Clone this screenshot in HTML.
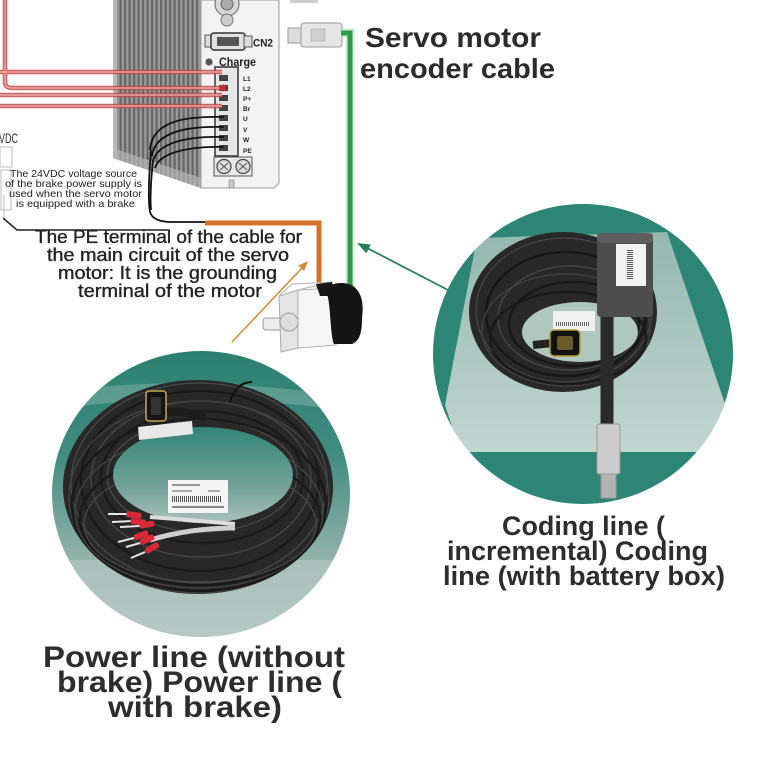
<!DOCTYPE html>
<html><head><meta charset="utf-8"><style>
html,body{margin:0;padding:0;background:#fff;}
svg{display:block;}
text{font-family:"Liberation Sans",Arial,sans-serif;}
</style></head><body>
<svg width="760" height="760" viewBox="0 0 760 760" xmlns="http://www.w3.org/2000/svg">
<defs>
 <clipPath id="body"><polygon points="113,0 201,0 201,188 113,158"/></clipPath>
 <clipPath id="lc"><ellipse cx="201" cy="494" rx="149" ry="143"/></clipPath>
 <clipPath id="rc"><circle cx="583" cy="354" r="150"/></clipPath>
 <clipPath id="lring"><path clip-rule="evenodd" d="M63,487 a135,107 0 1,0 270,0 a135,107 0 1,0 -270,0 Z M113,475 a90,48 0 1,0 180,0 a90,48 0 1,0 -180,0 Z"/></clipPath>
 <clipPath id="rring"><path clip-rule="evenodd" d="M469,312 a94,80 0 1,0 188,0 a94,80 0 1,0 -188,0 Z M522,332 a58,30 0 1,0 116,0 a58,30 0 1,0 -116,0 Z"/></clipPath>
 <linearGradient id="lg" x1="0" y1="0" x2="0" y2="1">
   <stop offset="0" stop-color="#2c8070"/>
   <stop offset="0.35" stop-color="#3f8b7f"/>
   <stop offset="0.7" stop-color="#8fb0a8"/>
   <stop offset="1" stop-color="#b9cac5"/>
 </linearGradient>
 <linearGradient id="lhole" x1="0" y1="0" x2="0" y2="1">
   <stop offset="0" stop-color="#348577"/>
   <stop offset="0.6" stop-color="#6fa096"/>
   <stop offset="1" stop-color="#a9c0ba"/>
 </linearGradient>
 <linearGradient id="bag" x1="0" y1="0" x2="0" y2="1">
   <stop offset="0" stop-color="#9fbdb5"/>
   <stop offset="1" stop-color="#d3dfdb"/>
 </linearGradient>
</defs>
<rect width="760" height="760" fill="#fff"/>

<!-- ===== Driver heat sink ===== -->
<polygon points="113,0 201,0 201,188 113,158" fill="#9a9a9a"/>
<g clip-path="url(#body)" fill="#666">
 <rect x="115" y="0" width="2.2" height="190"/><rect x="119.5" y="0" width="2.2" height="190"/>
 <rect x="124" y="0" width="2.2" height="190"/><rect x="128.5" y="0" width="2.2" height="190"/>
 <rect x="133" y="0" width="2.2" height="190"/><rect x="137.5" y="0" width="2.2" height="190"/>
 <rect x="142" y="0" width="2.2" height="190"/><rect x="146.5" y="0" width="2.2" height="190"/>
 <rect x="151" y="0" width="2.2" height="190"/><rect x="155.5" y="0" width="2.2" height="190"/>
 <rect x="160" y="0" width="2.2" height="190"/><rect x="164.5" y="0" width="2.2" height="190"/>
 <rect x="169" y="0" width="2.2" height="190"/><rect x="173.5" y="0" width="2.2" height="190"/>
 <rect x="178" y="0" width="2.2" height="190"/><rect x="182.5" y="0" width="2.2" height="190"/>
 <rect x="187" y="0" width="2.2" height="190"/><rect x="191.5" y="0" width="2.2" height="190"/>
 <rect x="196" y="0" width="2.2" height="190"/>
 <rect x="113" y="0" width="4" height="190" fill="#b8b8b8"/>
 <polygon points="113,148 201,178 201,190 113,160" fill="#b5b5b5" opacity="0.7"/>
</g>

<!-- front panel -->
<polygon points="201,0 279,0 279,183 274,188 201,188" fill="#f3f3f3" stroke="#9a9a9a" stroke-width="1"/>
<circle cx="227" cy="4" r="12" fill="#d8d8d8" stroke="#777" stroke-width="1.2"/>
<circle cx="227" cy="4" r="6" fill="#aaa" stroke="#666"/>
<circle cx="227" cy="20" r="6" fill="#ccc" stroke="#777"/>
<rect x="205" y="35" width="8" height="12" fill="#ddd" stroke="#555"/>
<rect x="211" y="33" width="34" height="17" rx="3" fill="#e2e2e2" stroke="#333" stroke-width="1.5"/>
<rect x="217" y="37" width="22" height="9" fill="#555"/>
<rect x="244" y="36" width="8" height="11" fill="#ddd" stroke="#555"/>
<text x="253" y="46.5" font-size="11" font-weight="bold" fill="#222" textLength="20" lengthAdjust="spacingAndGlyphs">CN2</text>
<circle cx="209" cy="62" r="3.6" fill="#555"/>
<text x="219" y="66" font-size="11.5" font-weight="bold" fill="#222" textLength="37" lengthAdjust="spacingAndGlyphs">Charge</text>
<rect x="215" y="67" width="23" height="89" fill="#e6e6e6" stroke="#333" stroke-width="1.5"/>
<g fill="#444">
 <rect x="219" y="75" width="9" height="6"/><rect x="219" y="85" width="9" height="6"/>
 <rect x="219" y="95" width="9" height="6"/><rect x="219" y="105" width="9" height="6"/>
 <rect x="219" y="115" width="9" height="6"/><rect x="219" y="125" width="9" height="6"/>
 <rect x="219" y="135" width="9" height="6"/><rect x="219" y="145" width="9" height="6"/>
</g>
<g font-size="6.5" font-weight="bold" fill="#222">
 <text x="243" y="81">L1</text><text x="243" y="91">L2</text><text x="243" y="101">P+</text>
 <text x="243" y="111">Br</text><text x="243" y="121">U</text><text x="243" y="132">V</text>
 <text x="243" y="142">W</text><text x="243" y="153">PE</text>
</g>
<rect x="214" y="157" width="38" height="19" fill="#e8e8e8" stroke="#555"/>
<circle cx="224" cy="166.5" r="7" fill="#ddd" stroke="#444" stroke-width="1.2"/>
<circle cx="243" cy="166.5" r="7" fill="#ddd" stroke="#444" stroke-width="1.2"/>
<path d="M220,163 L228,170 M220,170 L228,163 M239,163 L247,170 M239,170 L247,163" stroke="#555" stroke-width="1"/>
<rect x="229" y="180" width="5" height="8" fill="#ccc" stroke="#777" stroke-width="0.6"/>

<!-- red lines -->
<g fill="none" stroke-linecap="butt">
 <g stroke="#c24a4a" stroke-width="4.5" opacity="0.85">
  <path d="M0,72 H222"/><path d="M5,0 V82 Q5,88 12,88 H222"/><path d="M0,95 H222"/><path d="M0,106 H222"/>
 </g>
 <g stroke="#f0b4b4" stroke-width="1.2">
  <path d="M0,72 H222"/><path d="M5,0 V82 Q5,88 12,88 H222"/><path d="M0,95 H222"/><path d="M0,106 H222"/>
 </g>
</g>
<circle cx="223" cy="88" r="3.5" fill="#b33"/>

<!-- black wires -->
<g fill="none" stroke="#111" stroke-width="1.8">
 <path d="M224,117 C188,116 152,120 150,150"/>
 <path d="M224,127 C190,126 155,131 152,156"/>
 <path d="M224,137 C192,136 157,141 153,162"/>
 <path d="M224,147 C194,146 160,151 155,168"/>
 <path d="M151,150 C149,175 148,200 150,212 Q153,222 172,222 L208,222"/>
 <path d="M153,160 C151,180 150,200 151,210"/>
 <path d="M3,218 L17,230 H168" stroke-width="1.5" stroke="#222"/>
</g>

<!-- power supply faint drawing -->
<g fill="none" stroke="#bbb" stroke-width="1">
 <rect x="0" y="147" width="12" height="20"/>
 <rect x="1" y="170" width="10" height="40"/>
 <path d="M4,195 V218"/>
</g>
<text x="-1" y="143" font-size="14" fill="#333" textLength="19" lengthAdjust="spacingAndGlyphs">VDC</text>

<g font-size="10.5" fill="#222">
 <text x="10" y="177" textLength="127" lengthAdjust="spacingAndGlyphs">The 24VDC voltage source</text>
 <text x="5" y="187" textLength="137" lengthAdjust="spacingAndGlyphs">of the brake power supply is</text>
 <text x="9" y="197" textLength="133" lengthAdjust="spacingAndGlyphs">used when the servo motor</text>
 <text x="16" y="207" textLength="119" lengthAdjust="spacingAndGlyphs">is equipped with a brake</text>
</g>

<!-- orange connector -->
<path d="M205,223 H319 V293" fill="none" stroke="#d6702a" stroke-width="5"/>

<!-- PE text -->
<g font-size="18" fill="#222" stroke="#222" stroke-width="0.35">
 <text x="35" y="243" textLength="267" lengthAdjust="spacingAndGlyphs">The PE terminal of the cable for</text>
 <text x="47" y="261" textLength="242" lengthAdjust="spacingAndGlyphs">the main circuit of the servo</text>
 <text x="58" y="279" textLength="219" lengthAdjust="spacingAndGlyphs">motor: It is the grounding</text>
 <text x="78" y="297" textLength="184" lengthAdjust="spacingAndGlyphs">terminal of the motor</text>
</g>

<!-- encoder plug & green cable -->
<rect x="290" y="0" width="28" height="3" fill="#ccc"/>
<rect x="288" y="28" width="15" height="15" fill="#ddd" stroke="#999"/>
<rect x="301" y="23" width="41" height="24" rx="3" fill="#e6e6e6" stroke="#9a9a9a"/>
<rect x="311" y="29" width="14" height="12" fill="#cfcfcf" stroke="#aaa" stroke-width="0.6"/>
<path d="M341,33 H350 V288" fill="none" stroke="#a6e0ae" stroke-width="9" opacity="0.55"/>
<path d="M341,33 H350 V288" fill="none" stroke="#2f9a47" stroke-width="5"/>

<text x="365" y="47" font-size="28" font-weight="bold" fill="#2b2b2b" textLength="176" lengthAdjust="spacingAndGlyphs">Servo motor</text>
<text x="360" y="78" font-size="28" font-weight="bold" fill="#2b2b2b" textLength="195" lengthAdjust="spacingAndGlyphs">encoder cable</text>

<!-- motor -->
<rect x="263" y="318" width="24" height="12" rx="3" fill="#eee" stroke="#999"/>
<polygon points="279,296 298,290 298,348 281,352" fill="#e4e4e4" stroke="#aaa"/>
<circle cx="289" cy="322" r="9" fill="#ddd" stroke="#999"/>
<polygon points="298,290 336,288 336,345 298,348" fill="#f6f6f6" stroke="#b0b0b0"/>
<polygon points="279,296 292,284 332,282 298,290" fill="#fbfbfb" stroke="#b5b5b5"/>
<path d="M316,284 L332,282 L336,296 L320,296 Z" fill="#161616"/>
<path d="M326,290 C330,282 345,281 353,286 C362,292 364,305 362,318 C362,332 360,341 352,344 L334,344 C330,336 331,302 326,290 Z" fill="#141414"/>

<!-- thin arrows -->
<line x1="232" y1="342" x2="302" y2="268" stroke="#d28a3a" stroke-width="1.5"/>
<polygon points="308,261 304.1,271 298.3,265.6" fill="#d28a3a"/>
<line x1="448" y1="290" x2="367" y2="248" stroke="#2a7d57" stroke-width="1.8"/>
<polygon points="357,243 370.9,244.6 366.3,253.4" fill="#2a7d57"/>

<!-- ===== Left circle (power line) ===== -->
<g clip-path="url(#lc)">
 <rect x="50" y="350" width="302" height="290" fill="url(#lg)"/>
 <path d="M50,392 Q200,372 352,398 L352,412 Q200,388 50,410 Z" fill="#d5e3de" opacity="0.25"/>
 <rect x="50" y="560" width="302" height="80" fill="#b7c8c3" opacity="0.6"/>
</g>
<ellipse cx="203" cy="475" rx="90" ry="48" fill="url(#lhole)"/>
<path fill-rule="evenodd" fill="#282828" d="M63,487 a135,107 0 1,0 270,0 a135,107 0 1,0 -270,0 Z M113,475 a90,48 0 1,0 180,0 a90,48 0 1,0 -180,0 Z"/>
<g clip-path="url(#lring)" fill="none">
 <ellipse cx="199" cy="483" rx="128" ry="100" stroke="#484848" stroke-width="1.3"/>
 <ellipse cx="200" cy="481" rx="119" ry="90" stroke="#1a1a1a" stroke-width="2.5"/>
 <ellipse cx="201" cy="479" rx="110" ry="78" stroke="#4a4a4a" stroke-width="1.2"/>
 <ellipse cx="202" cy="477" rx="101" ry="66" stroke="#1b1b1b" stroke-width="2.5"/>
 <ellipse cx="202" cy="476" rx="95" ry="56" stroke="#4d4d4d" stroke-width="1.2"/>
 <ellipse cx="199" cy="497" rx="130" ry="96" stroke="#444" stroke-width="1.2"/>
 <ellipse cx="199" cy="505" rx="127" ry="86" stroke="#1a1a1a" stroke-width="2.5"/>
 <ellipse cx="199" cy="512" rx="124" ry="76" stroke="#474747" stroke-width="1.2"/>
 <ellipse cx="200" cy="519" rx="120" ry="66" stroke="#1a1a1a" stroke-width="2.5"/>
 <ellipse cx="200" cy="524" rx="116" ry="58" stroke="#4a4a4a" stroke-width="1.2"/>
</g>
<!-- connector & labels -->
<path d="M165,412 Q185,410 205,418" fill="none" stroke="#1d1d1d" stroke-width="8"/>
<rect x="146" y="391" width="20" height="30" rx="3" fill="#151515" stroke="#c2aa4a" stroke-width="1.5"/>
<rect x="151" y="397" width="10" height="18" fill="#333"/>
<polygon points="138,427 192,421 193,434 139,440" fill="#e9e9e9"/>
<path d="M230,402 q6,-20 22,-20" fill="none" stroke="#111" stroke-width="2"/>
<rect x="168" y="480" width="60" height="33" fill="#f4f4f4"/>
<rect x="172" y="484" width="28" height="2" fill="#999"/>
<rect x="172" y="490" width="20" height="2" fill="#aaa"/><rect x="208" y="490" width="12" height="2" fill="#aaa"/>
<line x1="172" y1="499" x2="222" y2="499" stroke="#555" stroke-width="6" stroke-dasharray="1 1"/>
<rect x="172" y="506" width="52" height="2" fill="#888"/>
<!-- ferrules -->
<g>
 <path d="M150,517 Q190,520 235,524" stroke="#ddd" stroke-width="4" fill="none"/>
 <path d="M150,540 Q190,528 235,528" stroke="#cfcfcf" stroke-width="5" fill="none"/>
 <g stroke="#e6e6e6" stroke-width="2">
  <line x1="108" y1="514" x2="128" y2="514"/><line x1="112" y1="522" x2="132" y2="521"/>
  <line x1="120" y1="527" x2="140" y2="526"/><line x1="118" y1="542" x2="134" y2="538"/>
  <line x1="126" y1="547" x2="140" y2="543"/><line x1="131" y1="558" x2="145" y2="552"/>
 </g>
 <g fill="#d8283a">
  <rect x="127" y="511" width="15" height="6" rx="2" transform="rotate(8 127 511)"/>
  <rect x="131" y="518" width="15" height="6" rx="2" transform="rotate(8 131 518)"/>
  <rect x="139" y="523" width="15" height="6" rx="2" transform="rotate(-10 139 523)"/>
  <rect x="133" y="535" width="15" height="6" rx="2" transform="rotate(-20 133 535)"/>
  <rect x="139" y="540" width="15" height="6" rx="2" transform="rotate(-25 139 540)"/>
  <rect x="144" y="549" width="15" height="6" rx="2" transform="rotate(-30 144 549)"/>
 </g>
</g>

<!-- ===== Right circle (coding line) ===== -->
<g clip-path="url(#rc)">
 <rect x="430" y="200" width="310" height="310" fill="#2c8575"/>
 <polygon points="477,238 667,232 727,410 716,452 460,452 445,405" fill="url(#bag)" opacity="0.9"/>
</g>
<ellipse cx="580" cy="332" rx="58" ry="30" fill="#b0c7c0"/>
<path fill-rule="evenodd" fill="#282828" d="M469,312 a94,80 0 1,0 188,0 a94,80 0 1,0 -188,0 Z M522,332 a58,30 0 1,0 116,0 a58,30 0 1,0 -116,0 Z"/>
<g clip-path="url(#rring)" fill="none">
 <ellipse cx="564" cy="310" rx="88" ry="72" stroke="#484848" stroke-width="1.2"/>
 <ellipse cx="566" cy="314" rx="80" ry="62" stroke="#161616" stroke-width="2.5"/>
 <ellipse cx="570" cy="318" rx="72" ry="52" stroke="#4a4a4a" stroke-width="1.2"/>
 <ellipse cx="574" cy="324" rx="65" ry="42" stroke="#181818" stroke-width="2.5"/>
 <ellipse cx="566" cy="330" rx="84" ry="56" stroke="#444" stroke-width="1.2"/>
 <ellipse cx="568" cy="338" rx="78" ry="46" stroke="#1a1a1a" stroke-width="2.5"/>
</g>
<rect x="553" y="311" width="42" height="20" fill="#f0f0f0"/>
<line x1="556" y1="324" x2="590" y2="324" stroke="#666" stroke-width="4" stroke-dasharray="1 1"/>
<line x1="533" y1="345" x2="553" y2="343" stroke="#222" stroke-width="8"/>
<rect x="550" y="330" width="30" height="26" rx="4" fill="#111" stroke="#b59b3a" stroke-width="1.5"/>
<rect x="557" y="336" width="16" height="14" rx="2" fill="#6a5a2a"/>
<!-- battery box & cable -->
<line x1="607" y1="315" x2="607" y2="430" stroke="#2a2a2a" stroke-width="13"/>
<rect x="597" y="233" width="56" height="84" rx="4" fill="#4d4d4d"/>
<rect x="597" y="233" width="56" height="10" rx="4" fill="#5e5e5e"/>
<rect x="616" y="244" width="30" height="42" fill="#f2f2f2"/>
<line x1="630" y1="250" x2="630" y2="280" stroke="#555" stroke-width="6" stroke-dasharray="1 1"/>
<rect x="597" y="424" width="23" height="50" rx="2" fill="#cdcdcd" stroke="#999"/>
<rect x="601" y="474" width="15" height="24" fill="#b3b3b3" stroke="#999"/>

<!-- bottom texts -->
<g font-size="27" font-weight="bold" fill="#2d2d2d">
 <text x="502" y="535" textLength="163" lengthAdjust="spacingAndGlyphs">Coding line (</text>
 <text x="447" y="560" textLength="261" lengthAdjust="spacingAndGlyphs">incremental) Coding</text>
 <text x="443" y="585" textLength="282" lengthAdjust="spacingAndGlyphs">line (with battery box)</text>
</g>
<g font-size="30" font-weight="bold" fill="#2d2d2d">
 <text x="43" y="667" textLength="302" lengthAdjust="spacingAndGlyphs">Power line (without</text>
 <text x="57" y="692" textLength="285" lengthAdjust="spacingAndGlyphs">brake) Power line (</text>
 <text x="108" y="717" textLength="174" lengthAdjust="spacingAndGlyphs">with brake)</text>
</g>
</svg>
</body></html>
